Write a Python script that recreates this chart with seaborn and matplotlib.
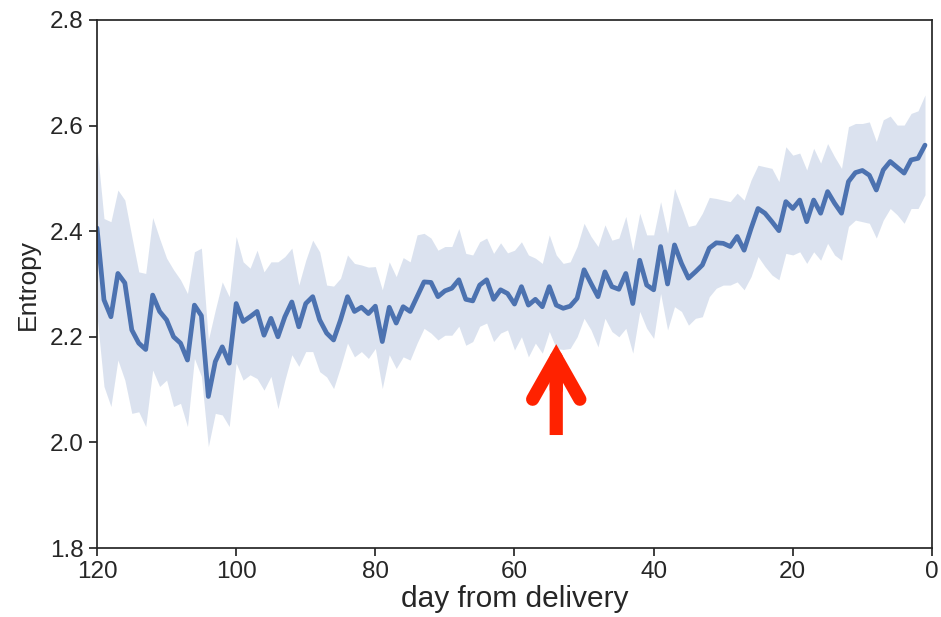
import numpy as np
import pandas as pd
import seaborn as sns
import matplotlib.pyplot as plt
from matplotlib.patches import FancyArrowPatch

# days before delivery, 120 down to 1
days = list(range(120, 0, -1))

entropy_mean = [
    2.406, 2.270, 2.238, 2.320, 2.302, 2.213, 2.188, 2.176, 2.279, 2.248,
    2.232, 2.200, 2.188, 2.156, 2.260, 2.240, 2.087, 2.153, 2.181, 2.150,
    2.263, 2.229, 2.238, 2.248, 2.203, 2.235, 2.200, 2.238, 2.266, 2.219,
    2.263, 2.276, 2.232, 2.207, 2.194, 2.232, 2.276, 2.248, 2.256, 2.244,
    2.258, 2.191, 2.256, 2.226, 2.257, 2.248, 2.276, 2.304, 2.303, 2.276,
    2.287, 2.292, 2.308, 2.271, 2.268, 2.298, 2.308, 2.271, 2.289, 2.282,
    2.262, 2.295, 2.260, 2.271, 2.257, 2.295, 2.260, 2.254, 2.258, 2.273,
    2.327, 2.301, 2.276, 2.323, 2.295, 2.290, 2.320, 2.263, 2.345, 2.298,
    2.289, 2.371, 2.300, 2.374, 2.339, 2.311, 2.323, 2.336, 2.368, 2.378,
    2.377, 2.371, 2.390, 2.364, 2.405, 2.443, 2.434, 2.418, 2.401, 2.456,
    2.443, 2.459, 2.418, 2.459, 2.434, 2.475, 2.453, 2.434, 2.494, 2.511,
    2.515, 2.506, 2.478, 2.516, 2.532, 2.521, 2.510, 2.535, 2.538, 2.563,
]

ci_upper = [
    2.560, 2.424, 2.418, 2.478, 2.459, 2.390, 2.323, 2.320, 2.426, 2.386,
    2.349, 2.327, 2.308, 2.282, 2.361, 2.368, 2.194, 2.251, 2.304, 2.276,
    2.390, 2.342, 2.330, 2.364, 2.323, 2.342, 2.342, 2.352, 2.368, 2.298,
    2.345, 2.383, 2.361, 2.298, 2.296, 2.311, 2.355, 2.339, 2.336, 2.332,
    2.333, 2.289, 2.342, 2.314, 2.350, 2.342, 2.393, 2.396, 2.387, 2.364,
    2.371, 2.371, 2.405, 2.358, 2.355, 2.380, 2.387, 2.358, 2.378, 2.359,
    2.364, 2.380, 2.355, 2.349, 2.339, 2.393, 2.355, 2.339, 2.342, 2.371,
    2.415, 2.390, 2.371, 2.412, 2.383, 2.387, 2.428, 2.364, 2.434, 2.393,
    2.393, 2.456, 2.396, 2.481, 2.446, 2.409, 2.412, 2.434, 2.464, 2.462,
    2.459, 2.456, 2.472, 2.459, 2.497, 2.525, 2.522, 2.519, 2.494, 2.560,
    2.544, 2.548, 2.516, 2.557, 2.529, 2.566, 2.541, 2.519, 2.598, 2.604,
    2.604, 2.607, 2.570, 2.611, 2.618, 2.601, 2.601, 2.623, 2.628, 2.658,
]

ci_lower = [
    2.240, 2.106, 2.068, 2.156, 2.118, 2.055, 2.058, 2.030, 2.137, 2.106,
    2.118, 2.068, 2.074, 2.030, 2.159, 2.125, 1.992, 2.055, 2.052, 2.030,
    2.150, 2.118, 2.128, 2.121, 2.099, 2.125, 2.064, 2.118, 2.166, 2.144,
    2.172, 2.172, 2.134, 2.124, 2.102, 2.143, 2.188, 2.162, 2.172, 2.159,
    2.178, 2.102, 2.166, 2.140, 2.162, 2.156, 2.188, 2.216, 2.207, 2.194,
    2.203, 2.203, 2.220, 2.184, 2.191, 2.220, 2.226, 2.191, 2.207, 2.213,
    2.175, 2.200, 2.162, 2.188, 2.169, 2.210, 2.178, 2.176, 2.178, 2.200,
    2.235, 2.213, 2.181, 2.235, 2.210, 2.200, 2.216, 2.169, 2.248, 2.216,
    2.197, 2.282, 2.213, 2.257, 2.248, 2.222, 2.235, 2.238, 2.276, 2.292,
    2.298, 2.298, 2.304, 2.289, 2.314, 2.352, 2.333, 2.317, 2.308, 2.358,
    2.355, 2.361, 2.339, 2.361, 2.345, 2.377, 2.355, 2.345, 2.409, 2.421,
    2.418, 2.415, 2.387, 2.421, 2.443, 2.431, 2.415, 2.443, 2.443, 2.469,
]

# where the arrow points (day, entropy)
arrow_day = 54
arrow_tail = 2.014
arrow_mid = 2.10
arrow_tip = 2.186

sns.set_theme(style="ticks")
plt.rcParams['font.family'] = ['Liberation Sans', 'DejaVu Sans']

df = pd.DataFrame({"day": days, "entropy": entropy_mean})
blue = sns.color_palette("deep")[0]
red = "#ff2200"

fig = plt.figure(figsize=(9.41, 6.17), dpi=100)
ax = fig.add_axes([0.1031, 0.1118, 0.8873, 0.8558])

ax.fill_between(days, ci_lower, ci_upper, color=blue, alpha=0.2, linewidth=0)
sns.lineplot(data=df, x="day", y="entropy", color=blue, linewidth=3.4, ax=ax)

ax.set_xlim(120, 0)
ax.set_ylim(1.8, 2.8)
ax.set_xticks([120, 100, 80, 60, 40, 20, 0])
ax.set_yticks([1.8, 2.0, 2.2, 2.4, 2.6, 2.8])
ax.tick_params(labelsize=17.5)
ax.set_xlabel("day from delivery", fontsize=21.5, labelpad=1)
ax.set_ylabel("Entropy", fontsize=19, labelpad=7)
for s in ax.spines.values():
    s.set_visible(True)

# arrow head with rounded ends, flat-ended shaft below it
head = FancyArrowPatch((arrow_day, arrow_mid), (arrow_day, arrow_tip),
                       arrowstyle="->,head_length=30,head_width=17",
                       mutation_scale=1, color=red, linewidth=9.5,
                       shrinkA=0, shrinkB=0,
                       joinstyle="miter", capstyle="round")
shaft = FancyArrowPatch((arrow_day, arrow_tail), (arrow_day, arrow_mid + 0.02),
                        arrowstyle="-", mutation_scale=1, color=red,
                        linewidth=9.5, shrinkA=0, shrinkB=0, capstyle="butt")
ax.add_patch(shaft)
ax.add_patch(head)

fig.savefig("out.png", dpi=100)
